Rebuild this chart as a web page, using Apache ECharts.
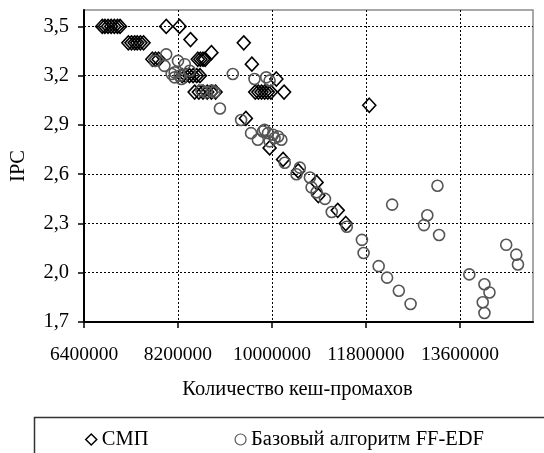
<!DOCTYPE html>
<html>
<head>
<meta charset="utf-8">
<script src="https://cdn.jsdelivr.net/npm/echarts@6/dist/echarts.min.js"></script>
<style>html,body{margin:0;padding:0;background:#fff}#c{width:544px;height:453px}</style>
</head>
<body>
<div id="c"></div>
<script>
// ---- data ----
const xTicks = [6400000, 8200000, 10000000, 11800000, 13600000];
const yTicks = [1.7, 2.0, 2.3, 2.6, 2.9, 3.2, 3.5];
const xTitle = 'Количество кеш-промахов';
const yTitle = 'IPC';
const seriesNames = ['СМП', 'Базовый алгоритм FF-EDF'];

const smpMisses = [
  6750000, 6800000, 6860000, 6920000, 6980000, 7040000, 7090000, 7975000, 8230000,
  7250000, 7310000, 7370000, 7420000, 7480000, 7540000, 8440000,
  7710000, 7770000, 7830000, 8580000, 8630000, 8680000, 8720000, 8840000,
  8280000, 8350000, 8420000, 8490000, 8560000, 8620000,
  8520000, 8600000, 8680000, 8760000, 8840000, 8920000,
  9460000, 9615000, 10084000,
  9680000, 9740000, 9800000, 9860000, 9920000, 9980000, 10232000,
  11864000, 9500000, 9955000, 10213000, 10502000, 10855000, 10888000, 11260000, 11414000
];
const smpIPC = [
  3.5, 3.5, 3.5, 3.5, 3.5, 3.5, 3.5, 3.5, 3.5,
  3.4, 3.4, 3.4, 3.4, 3.4, 3.4, 3.42,
  3.3, 3.3, 3.3, 3.3, 3.3, 3.3, 3.3, 3.34,
  3.2, 3.2, 3.2, 3.2, 3.2, 3.2,
  3.1, 3.1, 3.1, 3.1, 3.1, 3.1,
  3.4, 3.27, 3.18,
  3.1, 3.1, 3.1, 3.1, 3.1, 3.1, 3.1,
  3.02, 2.94, 2.76, 2.69, 2.62, 2.55, 2.47, 2.38, 2.30
];

const baseMisses = [
  7760000, 7975000, 7940000, 8200000, 8330000, 8136000, 8232000, 8425000, 8136000, 8265000, 8080000,
  8650000, 8750000, 8850000, 8900000, 9004000, 9250000,
  9665000, 9890000, 9955000,
  9409000, 9600000, 9730000, 9827000, 9924000, 10020000, 10117000, 10180000, 9955000, 9858000, 10050000,
  10245000, 10534000, 10470000, 10727000, 10759000, 10855000, 11015000, 11145000, 11434000,
  11723000, 11755000, 12044000, 12205000, 12430000, 12655000,
  12302000, 13170000, 12976000, 12912000, 13201000,
  13780000, 14070000, 14166000, 14037000, 14070000,
  14487000, 14680000, 14712000
];
const baseIPC = [
  3.29, 3.33, 3.26, 3.29, 3.27, 3.22, 3.20, 3.23, 3.19, 3.18, 3.21,
  3.11, 3.10, 3.11, 3.10, 3.0, 3.21,
  3.18, 3.19, 3.17,
  2.93, 2.85, 2.81, 2.86, 2.85, 2.84, 2.83, 2.81, 2.80, 2.87, 2.82,
  2.67, 2.64, 2.60, 2.58, 2.52, 2.49, 2.45, 2.37, 2.28,
  2.20, 2.12, 2.04, 1.97, 1.89, 1.81,
  2.415, 2.53, 2.35, 2.29, 2.23,
  1.99, 1.93, 1.88, 1.82, 1.755,
  2.17, 2.11, 2.05
];

// ---- chart ----
const FONT = "'Liberation Serif', 'Times New Roman', serif";
const zip = (a, b) => a.map((v, i) => [v, b[i]]);

const chart = echarts.init(document.getElementById('c'), null, {renderer: 'canvas'});
chart.setOption({
  animation: false,
  backgroundColor: '#fff',
  textStyle: {fontFamily: FONT, color: '#000'},
  grid: {
    left: 84, right: 11, top: 10, bottom: 131,
    containLabel: false, outerBoundsMode: 'none',
    show: true, borderColor: '#8c8c8c', borderWidth: 1.5, backgroundColor: 'transparent'
  },
  xAxis: {
    type: 'value',
    min: 6400000, max: 15000000, interval: 1800000,
    name: xTitle, nameLocation: 'middle', nameGap: 57,
    nameTextStyle: {fontFamily: FONT, fontSize: 20.5, color: '#000', padding: [0, 22, 0, 0]},
    axisLine: {show: true, lineStyle: {color: '#000', width: 2}},
    axisTick: {show: true, inside: false, length: 6, lineStyle: {color: '#000', width: 1.5}, customValues: xTicks},
    axisLabel: {show: true, margin: 23, fontFamily: FONT, fontSize: 19.5, color: '#000', customValues: xTicks,
      formatter: v => String(Math.round(v))},
    splitLine: {show: true, lineStyle: {color: '#000', width: 1, type: [2, 2]}}
  },
  yAxis: {
    type: 'value',
    min: 1.7, max: 3.6, interval: 0.3,
    name: yTitle, nameLocation: 'middle', nameGap: 55, nameRotate: 90,
    nameTextStyle: {fontFamily: FONT, fontSize: 20.5, color: '#000'},
    axisLine: {show: true, lineStyle: {color: '#000', width: 2}},
    axisTick: {show: true, inside: false, length: 6, lineStyle: {color: '#000', width: 1.5}, customValues: yTicks},
    axisLabel: {show: true, margin: 15, fontFamily: FONT, fontSize: 20.5, color: '#000', customValues: yTicks,
      formatter: v => v.toFixed(1).replace('.', ',')},
    splitLine: {show: true, lineStyle: {color: '#000', width: 1, type: [2, 2]}}
  },
  legend: {
    left: 80, top: 424,
    itemGap: 86, itemWidth: 11, itemHeight: 11,
    textStyle: {fontFamily: FONT, fontSize: 20.5, color: '#000'},
    data: [
      {name: seriesNames[0], icon: 'diamond', itemStyle: {color: 'transparent', borderColor: '#000', borderWidth: 1.5}},
      {name: seriesNames[1], icon: 'circle', itemStyle: {color: 'transparent', borderColor: '#555', borderWidth: 1.2}}
    ]
  },
  graphic: [{
    type: 'rect', left: 32, top: 415, silent: true,
    shape: {width: 540, height: 50},
    style: {fill: 'none', stroke: '#333', lineWidth: 1.5}
  }],
  series: [
    {
      name: seriesNames[0], type: 'scatter',
      symbol: 'diamond', symbolSize: [13, 14],
      itemStyle: {color: 'transparent', borderColor: '#000', borderWidth: 1.6, opacity: 1},
      data: zip(smpMisses, smpIPC), z: 2
    },
    {
      name: seriesNames[1], type: 'scatter',
      symbol: 'circle', symbolSize: 11,
      itemStyle: {color: 'transparent', borderColor: '#555', borderWidth: 1.6, opacity: 1},
      data: zip(baseMisses, baseIPC), z: 3
    }
  ]
});
</script>
</body>
</html>
